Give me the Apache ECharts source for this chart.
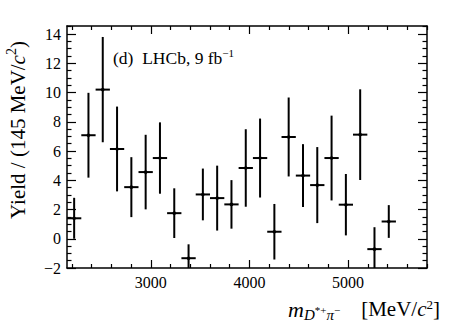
<!DOCTYPE html>
<html>
<head>
<meta charset="utf-8">
<script src="https://cdn.jsdelivr.net/npm/echarts@6/dist/echarts.min.js"></script>
<style>
html,body{margin:0;padding:0;background:#fff;}
#chart{width:449px;height:322px;}
</style>
</head>
<body>
<div id="chart"></div>
<script>
// ---- data ----
const binWidth = 145; // MeV/c^2
const binCenters = [2222.5, 2367.5, 2512.5, 2657.5, 2802.5, 2947.5, 3092.5, 3237.5, 3382.5, 3527.5, 3672.5, 3817.5, 3962.5, 4107.5, 4252.5, 4397.5, 4542.5, 4687.5, 4832.5, 4977.5, 5122.5, 5267.5, 5412.5];
const yields = [1.4, 7.08, 10.2, 6.14, 3.53, 4.56, 5.52, 1.75, -1.33, 3.03, 2.78, 2.35, 4.84, 5.52, 0.48, 6.96, 4.32, 3.67, 5.52, 2.33, 7.12, -0.71, 1.18];
const errors = [1.4, 2.9, 3.6, 2.9, 2.05, 2.55, 2.44, 1.7, 0.95, 1.77, 2.22, 1.66, 2.65, 2.7, 1.9, 2.7, 2.15, 2.6, 2.9, 2.1, 3.1, 1.5, 1.12];

const xMin = 2150, xMax = 5800;
const yMin = -2, yMax = 14.55;
const xMajorTicks = [3000, 4000, 5000];
const xMinorTicks = [2200, 2400, 2600, 2800, 3200, 3400, 3600, 3800, 4200, 4400, 4600, 4800, 5200, 5400, 5600, 5800];
const yMajorTicks = [-2, 0, 2, 4, 6, 8, 10, 12, 14];
const yMinorTicks = [-1.5, -1, -0.5, 0.5, 1, 1.5, 2.5, 3, 3.5, 4.5, 5, 5.5, 6.5, 7, 7.5, 8.5, 9, 9.5, 10.5, 11, 11.5, 12.5, 13, 13.5, 14.5];

// ---- chart ----
const FONT = 'Liberation Serif';
const chart = echarts.init(document.getElementById('chart'), null, {renderer: 'svg'});

const lineStyle = {color: '#000', width: 1.5};
function xAxisDef(pos, ticks, len, major) {
  return {
    type: 'value', position: pos, min: xMin, max: xMax,
    axisLine: {show: major, onZero: false, lineStyle: lineStyle},
    axisTick: {show: true, inside: true, length: len, customValues: ticks, lineStyle: {color: '#000', width: 1.2}},
    axisLabel: {show: major && pos === 'bottom', customValues: ticks, color: '#000', fontFamily: FONT, fontSize: 16, margin: 6,
      formatter: v => String(v)},
    splitLine: {show: false}
  };
}
function yAxisDef(pos, ticks, len, major) {
  return {
    type: 'value', position: pos, min: yMin, max: yMax,
    axisLine: {show: major, onZero: false, lineStyle: lineStyle},
    axisTick: {show: true, inside: true, length: len, customValues: ticks, lineStyle: {color: '#000', width: 1.2}},
    axisLabel: {show: major && pos === 'left', customValues: ticks, color: '#000', fontFamily: FONT, fontSize: 16, margin: 6,
      formatter: v => (v < 0 ? '\u2212' + Math.abs(v) : String(v))},
    splitLine: {show: false}
  };
}

const data = binCenters.map((x, i) => [x, yields[i], errors[i]]);

chart.setOption({
  animation: false,
  backgroundColor: '#fff',
  textStyle: {fontFamily: FONT},
  grid: {left: 67, right: 22, top: 26, bottom: 54},
  xAxis: [
    xAxisDef('bottom', xMajorTicks, 8, true),
    xAxisDef('bottom', xMinorTicks, 4, false),
    xAxisDef('top', xMajorTicks, 8, true),
    xAxisDef('top', xMinorTicks, 4, false)
  ],
  yAxis: [
    yAxisDef('left', yMajorTicks, 9, true),
    yAxisDef('left', yMinorTicks, 4.5, false),
    yAxisDef('right', yMajorTicks, 9, true),
    yAxisDef('right', yMinorTicks, 4.5, false)
  ],
  series: [{
    type: 'custom',
    xAxisIndex: 0, yAxisIndex: 0,
    data: data,
    renderItem: function (params, api) {
      const x = api.value(0), y = api.value(1), e = api.value(2);
      const pL = api.coord([x - binWidth / 2, y]);
      const pR = api.coord([x + binWidth / 2, y]);
      const pT = api.coord([x, Math.min(y + e, yMax)]);
      const pB = api.coord([x, Math.max(y - e, yMin)]);
      const c = api.coord([x, y]);
      return {
        type: 'group',
        children: [
          {type: 'line', shape: {x1: pL[0], y1: pL[1], x2: pR[0], y2: pR[1]}, style: {stroke: '#000', lineWidth: 2}},
          {type: 'line', shape: {x1: pT[0], y1: pT[1], x2: pB[0], y2: pB[1]}, style: {stroke: '#000', lineWidth: 2}},
          {type: 'circle', shape: {cx: c[0], cy: c[1], r: 1.8}, style: {fill: '#000'}}
        ]
      };
    }
  }],
  graphic: [
    {
      type: 'text', x: 16.5, y: 130, rotation: Math.PI / 2,
      style: {
        text: '{a|Yield / (145 MeV/}{i|c}{s|2}{a|)}',
        align: 'center', verticalAlign: 'middle',
        rich: {
          a: {fontFamily: FONT, fontSize: 21, lineHeight: 24, verticalAlign: 'bottom', fill: '#000'},
          i: {fontFamily: FONT, fontSize: 21, fontStyle: 'italic', lineHeight: 24, verticalAlign: 'bottom', fill: '#000'},
          s: {fontFamily: FONT, fontSize: 14, lineHeight: 14, verticalAlign: 'top', fill: '#000'}
        }
      }
    },
    {
      type: 'text', x: 440, y: 298,
      style: {
        text: '{m|m}{sub|D}{ss|*+}{sub|\u03c0}{ss|\u2212}{gap| }{a|[MeV/}{i|c}{s|2}{a|]}',
        align: 'right', verticalAlign: 'top',
        rich: {
          m: {fontFamily: FONT, fontSize: 22, fontStyle: 'italic', lineHeight: 21, verticalAlign: 'top', fill: '#000'},
          a: {fontFamily: FONT, fontSize: 21, lineHeight: 21, verticalAlign: 'top', fill: '#000'},
          i: {fontFamily: FONT, fontSize: 21, fontStyle: 'italic', lineHeight: 21, verticalAlign: 'top', fill: '#000'},
          s: {fontFamily: FONT, fontSize: 13, lineHeight: 13, verticalAlign: 'top', fill: '#000'},
          sub: {fontFamily: FONT, fontSize: 15, fontStyle: 'italic', lineHeight: 15, verticalAlign: 'bottom', fill: '#000'},
          ss: {fontFamily: FONT, fontSize: 11, lineHeight: 24, verticalAlign: 'middle', fill: '#000'},
          gap: {fontFamily: FONT, fontSize: 21, lineHeight: 21, width: 21, verticalAlign: 'top'}
        }
      }
    },
    {
      type: 'text', x: 113, y: 57,
      style: {
        text: '{a|(d)  LHCb, 9 fb}{s|\u22121}',
        align: 'left', verticalAlign: 'middle',
        rich: {
          a: {fontFamily: FONT, fontSize: 17.5, lineHeight: 20, verticalAlign: 'bottom', fill: '#000'},
          s: {fontFamily: FONT, fontSize: 11, lineHeight: 11, verticalAlign: 'top', fill: '#000'}
        }
      }
    }
  ]
});
</script>
</body>
</html>
